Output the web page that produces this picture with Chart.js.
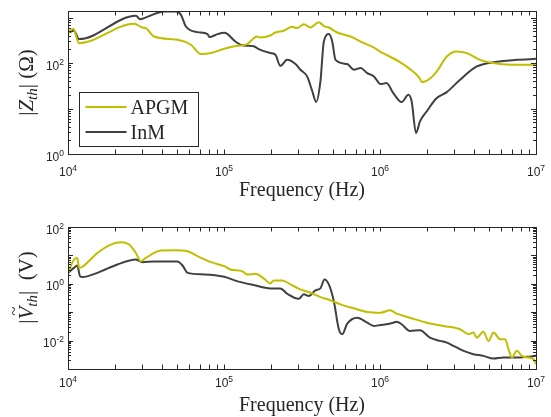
<!DOCTYPE html>
<html>
<head>
<meta charset="utf-8">
<script src="https://cdn.jsdelivr.net/npm/chart.js@4.4.1/dist/chart.umd.min.js"></script>
<style>
  html, body { margin: 0; padding: 0; background: #fff; }
  #wrap { position: relative; width: 551px; height: 417px; }
  canvas { position: absolute; left: 0; }
  #zChart { top: 0; }
  #vChart { top: 208px; }
</style>
</head>
<body>
<div id="wrap">
  <canvas id="zChart" width="551" height="208"></canvas>
  <canvas id="vChart" width="551" height="209"></canvas>
</div>
<script>
// |Z_th| (ohm) vs frequency (Hz)
const zFreqAPGM = [1.0e4, 1.08e4, 1.177e4, 2.655e4, 3.0e4, 3.155e4, 3.565e4, 5.03e4, 6.14e4, 7.115e4,
  8.255e4, 1.004e5, 1.153e5, 1.406e5, 1.63e5, 1.71e5, 1.982e5, 2.135e5, 2.414e5, 2.733e5,
  2.944e5, 3.246e5, 3.582e5, 4.054e5, 4.365e5, 4.70e5, 5.32e5, 6.475e5, 7.505e5, 9.14e5,
  1.01e6, 1.10e6, 1.343e6, 1.556e6, 1.762e6, 1.87e6, 2.043e6, 2.31e6, 2.68e6, 3.10e6,
  3.60e6, 4.38e6, 5.34e6, 6.83e6, 1.0e7];
const zAPGM = [457, 567, 275, 731, 606, 588, 384, 325, 253, 158,
  166, 206, 232, 262, 384, 365, 404, 471, 513, 628,
  588, 720, 606, 796, 650, 606, 471, 384, 298, 220,
  175, 152, 105, 73.8, 50.7, 38.2, 43.0, 65.3, 139.6, 180,
  166, 118, 100, 91.8, 91.8];

const zFreqInM = [1.0e4, 1.093e4, 1.177e4, 2.723e4, 2.899e4, 3.076e4, 4.138e4, 4.92e4, 5.30e4, 5.70e4,
  6.765e4, 7.85e4, 8.05e4, 9.10e4, 1.004e5, 1.044e5, 1.182e5, 1.337e5, 1.55e5, 1.668e5,
  1.982e5, 2.135e5, 2.297e5, 2.539e5, 2.873e5, 3.09e5, 3.413e5, 3.673e5, 3.898e5, 4.15e5,
  4.365e5, 4.70e5, 4.94e5, 5.188e5, 6.166e5, 6.798e5, 7.505e5, 8.28e5, 9.14e5, 1.01e6,
  1.10e6, 1.217e6, 1.376e6, 1.521e6, 1.596e6, 1.702e6, 1.804e6, 1.991e6, 2.31e6, 2.68e6,
  3.26e6, 4.17e6, 5.34e6, 7.54e6, 1.0e7];
const zInM = [457, 513, 337, 1096, 927, 975, 1370, 1370, 1153, 637,
  480, 434, 373, 434, 463, 447, 298, 244, 236, 203,
  166, 152, 87.2, 118, 95.1, 71.3, 50.7, 24.6, 13.9, 39.4,
  298, 434, 298, 118, 95.1, 71.3, 77.6, 60.3, 50.7, 34.5,
  36.3, 21.9, 13.9, 20.1, 14.3, 2.89, 5.21, 8.63, 17.0, 23.0,
  43.0, 84.2, 105, 118, 124];

// |V_th| (V) vs frequency (Hz)
const vFreqAPGM = [1.0e4, 1.093e4, 1.147e4, 1.177e4, 1.236e4, 1.542e4, 1.879e4, 2.179e4, 2.464e4, 2.723e4,
  2.931e4, 3.155e4, 3.939e4, 4.795e4, 5.84e4, 6.765e4, 8.255e4, 1.004e5, 1.097e5, 1.305e5,
  1.406e5, 1.589e5, 1.796e5, 1.982e5, 2.084e5, 2.36e5, 2.667e5, 3.09e5, 3.582e5, 4.15e5,
  4.816e5, 5.585e5, 6.798e5, 8.28e5, 1.01e6, 1.159e6, 1.28e6, 1.556e6, 1.991e6, 2.55e6,
  3.26e6, 3.69e6, 3.97e6, 4.17e6, 4.60e6, 4.96e6, 5.34e6, 5.89e6, 6.34e6, 6.67e6,
  7.00e6, 7.54e6, 8.11e6, 8.96e6, 9.65e6, 1.0e7];
const vAPGM = [2.43, 7.18, 8.17, 3.64, 3.95, 12.2, 24.1, 29.0, 24.1, 12.2,
  6.26, 8.17, 14.9, 15.2, 14.0, 9.38, 5.77, 4.18, 3.20, 2.79,
  2.14, 2.24, 1.55, 1.03, 1.32, 1.32, 0.953, 0.636, 0.483, 0.341,
  0.262, 0.189, 0.137, 0.102, 0.096, 0.117, 0.0886, 0.0641, 0.0428, 0.0328,
  0.0251, 0.0168, 0.0191, 0.0127, 0.0207, 0.00976, 0.0191, 0.0112, 0.0112, 0.00499,
  0.00253, 0.00435, 0.0029, 0.00253, 0.00222, 0.00149];

const vFreqInM = [1.0e4, 1.093e4, 1.147e4, 1.194e4, 1.236e4, 1.542e4, 2.074e4, 2.723e4, 3.0e4, 3.565e4,
  5.03e4, 5.42e4, 5.84e4, 7.465e4, 1.004e5, 1.21e5, 1.55e5, 1.982e5, 2.297e5, 2.539e5,
  3.013e5, 3.246e5, 3.493e5, 3.855e5, 4.15e5, 4.408e5, 4.70e5, 5.057e5, 5.446e5, 5.728e5,
  6.166e5, 7.148e5, 8.28e5, 9.14e5, 1.01e6, 1.10e6, 1.217e6, 1.28e6, 1.376e6, 1.556e6,
  1.804e6, 2.09e6, 2.43e6, 2.68e6, 2.96e6, 3.43e6, 3.97e6, 4.60e6, 5.34e6, 6.19e6,
  7.54e6, 8.75e6, 1.0e7];
const vInM = [2.43, 3.64, 4.42, 1.86, 1.72, 2.43, 4.80, 7.18, 5.77, 6.11,
  6.11, 4.42, 2.43, 2.14, 1.76, 1.24, 0.90, 0.69, 0.69, 0.446,
  0.298, 0.425, 0.370, 0.587, 0.69, 1.43, 0.953, 0.247, 0.0251, 0.0168,
  0.0395, 0.0641, 0.0428, 0.0328, 0.0356, 0.0376, 0.0428, 0.0464, 0.0376, 0.0219,
  0.0232, 0.0127, 0.00976, 0.0085, 0.00652, 0.00435, 0.00333, 0.0029, 0.00233, 0.00253,
  0.00253, 0.00268, 0.0029];

// tick labels shown as 10^n
const freqTickExp = [4, 5, 6, 7];
const zTickExp = [0, 2];
const vTickExp = [-2, 0, 2];

const seriesNames = ['APGM', 'InM'];
const APGM_COLOR = '#bfbf00';
const INM_COLOR = '#404040';
const TEXT = '#262626';
const SERIF = '"Liberation Serif", "Times New Roman", serif';
const SANS = '"Liberation Sans", Arial, sans-serif';

const toPoints = (fs, vs) => fs.map((f, i) => ({ x: f, y: vs[i] }));

function logTicks(scale) {
  const out = [];
  const lo = Math.floor(Math.log10(scale.min) + 1e-9);
  const hi = Math.ceil(Math.log10(scale.max) - 1e-9);
  for (let e = lo; e <= hi; e++) {
    for (let m = 1; m <= 9; m++) {
      const v = m * Math.pow(10, e);
      if (v >= scale.min * 0.999 && v <= scale.max * 1.001) out.push({ v, major: m === 1 });
    }
  }
  return out;
}

// "10" with a raised exponent
function drawPow(ctx, exp, x, y, align) {
  ctx.font = '12px ' + SANS;
  const wb = ctx.measureText('10').width;
  ctx.font = '8.5px ' + SANS;
  const es = String(exp);
  const we = ctx.measureText(es).width;
  const x0 = align === 'right' ? x - wb - we : x - (wb + we) / 2;
  ctx.font = '12px ' + SANS;
  ctx.fillText('10', x0, y);
  ctx.font = '8.5px ' + SANS;
  ctx.fillText(es, x0 + wb, y - 5);
}

function drawRich(ctx, pieces, cx, cy, rotate) {
  ctx.save();
  ctx.translate(cx, cy);
  if (rotate) ctx.rotate(-Math.PI / 2);
  let total = 0;
  pieces.forEach(p => { ctx.font = p.font; p.w = ctx.measureText(p.text).width; total += p.w; });
  let x = -total / 2;
  pieces.forEach(p => {
    ctx.font = p.font;
    ctx.fillText(p.text, x, p.dy || 0);
    if (p.accent) {
      ctx.font = p.accent.font;
      const aw = ctx.measureText(p.accent.text).width;
      ctx.fillText(p.accent.text, x + p.w / 2 - aw / 2 + (p.accent.dx || 0), p.accent.dy);
    }
    x += p.w;
  });
  ctx.restore();
}

const xTitle = [{ text: 'Frequency (Hz)', font: '20px ' + SERIF }];
const zTitle = [
  { text: '|', font: '21px ' + SERIF },
  { text: 'Z', font: 'italic 21px ' + SERIF },
  { text: 'th', font: 'italic 15px ' + SERIF, dy: 4 },
  { text: '|', font: '21px ' + SERIF },
  { text: ' (Ω)', font: '21px ' + SERIF }
];
const vTitle = [
  { text: '|', font: '21px ' + SERIF },
  { text: 'V', font: 'italic 21px ' + SERIF, accent: { text: '~', font: '17px ' + SERIF, dy: -14, dx: 2 } },
  { text: 'th', font: 'italic 15px ' + SERIF, dy: 4 },
  { text: '|', font: '21px ' + SERIF },
  { text: '  (V)', font: '21px ' + SERIF }
];

const matlabAxes = {
  id: 'matlabAxes',
  afterDraw(chart, args, o) {
    const { ctx, chartArea: a } = chart;
    const xs = chart.scales.x, ys = chart.scales.y;
    ctx.save();
    ctx.strokeStyle = TEXT;
    ctx.fillStyle = TEXT;
    ctx.lineWidth = 1;

    // inward ticks on all four sides
    ctx.beginPath();
    logTicks(xs).forEach(t => {
      const px = Math.round(xs.getPixelForValue(t.v)) + 0.5;
      ctx.moveTo(px, a.bottom); ctx.lineTo(px, a.bottom - 4.5);
      ctx.moveTo(px, a.top); ctx.lineTo(px, a.top + 4.5);
    });
    logTicks(ys).forEach(t => {
      const py = Math.round(ys.getPixelForValue(t.v)) + 0.5;
      const len = t.major ? 5 : 3;
      ctx.moveTo(a.left, py); ctx.lineTo(a.left + len, py);
      ctx.moveTo(a.right, py); ctx.lineTo(a.right - len, py);
    });
    ctx.stroke();
    ctx.strokeRect(Math.round(a.left) + 0.5, Math.round(a.top) + 0.5,
      Math.round(a.right - a.left), Math.round(a.bottom - a.top));

    // tick labels
    ctx.textBaseline = 'alphabetic';
    ctx.textAlign = 'left';
    o.xExp.forEach(e => drawPow(ctx, e, xs.getPixelForValue(Math.pow(10, e)), a.bottom + o.xLabelOffset, 'center'));
    o.yExp.forEach(e => drawPow(ctx, e, a.left - 4, ys.getPixelForValue(Math.pow(10, e)) + 6.5, 'right'));

    // axis titles
    drawRich(ctx, xTitle, (a.left + a.right) / 2, a.bottom + 42, false);
    drawRich(ctx, o.yTitle, 33, o.yTitleY, true);

    // legend box
    if (o.legend) {
      const L = o.legend;
      ctx.fillStyle = '#fff';
      ctx.fillRect(L.x0, L.y0, L.x1 - L.x0, L.y1 - L.y0);
      ctx.strokeStyle = TEXT;
      ctx.strokeRect(L.x0, L.y0, L.x1 - L.x0, L.y1 - L.y0);
      chart.data.datasets.forEach((ds, i) => {
        const ly = L.y0 + 14.5 + i * 25;
        ctx.strokeStyle = ds.borderColor;
        ctx.lineWidth = 2;
        ctx.beginPath();
        ctx.moveTo(L.x0 + 6, ly); ctx.lineTo(L.x0 + 47, ly);
        ctx.stroke();
        ctx.fillStyle = TEXT;
        ctx.font = '20px ' + SERIF;
        ctx.fillText(ds.label, L.x0 + 51, ly + 6.5);
      });
    }
    ctx.restore();
  }
};

function makeChart(id, sets, yMin, yMax, padTop, xHeight, axisOpts) {
  return new Chart(document.getElementById(id), {
    type: 'line',
    data: {
      datasets: sets.map(s => ({
        label: s.label,
        data: s.data,
        borderColor: s.color,
        borderWidth: 2,
        pointRadius: 0,
        fill: false,
        cubicInterpolationMode: 'monotone'
      }))
    },
    options: {
      responsive: false,
      animation: false,
      devicePixelRatio: 1,
      events: [],
      layout: { padding: { top: padTop, right: 15, bottom: 0, left: 0 } },
      plugins: { legend: { display: false }, tooltip: { enabled: false }, matlabAxes: axisOpts },
      scales: {
        x: {
          type: 'logarithmic', min: 1e4, max: 1e7,
          ticks: { display: false }, grid: { display: false }, border: { display: false },
          afterFit: s => { s.height = xHeight; }
        },
        y: {
          type: 'logarithmic', min: yMin, max: yMax,
          ticks: { display: false }, grid: { display: false }, border: { display: false },
          afterFit: s => { s.width = 68; }
        }
      }
    },
    plugins: [matlabAxes]
  });
}

makeChart('zChart', [
  { label: seriesNames[0], data: toPoints(zFreqAPGM, zAPGM), color: APGM_COLOR },
  { label: seriesNames[1], data: toPoints(zFreqInM, zInM), color: INM_COLOR }
], 1, 1400, 11, 54, {
  xExp: freqTickExp, yExp: zTickExp, xLabelOffset: 22, yTitle: zTitle, yTitleY: 82.5,
  legend: { x0: 79.5, y0: 92.5, x1: 198.5, y1: 146.5 }
});

makeChart('vChart', [
  { label: seriesNames[0], data: toPoints(vFreqAPGM, vAPGM), color: APGM_COLOR },
  { label: seriesNames[1], data: toPoints(vFreqInM, vInM), color: INM_COLOR }
], 1e-3, 1e2, 19, 48, {
  xExp: freqTickExp, yExp: vTickExp, xLabelOffset: 18, yTitle: vTitle, yTitleY: 79.5
});
</script>
</body>
</html>
